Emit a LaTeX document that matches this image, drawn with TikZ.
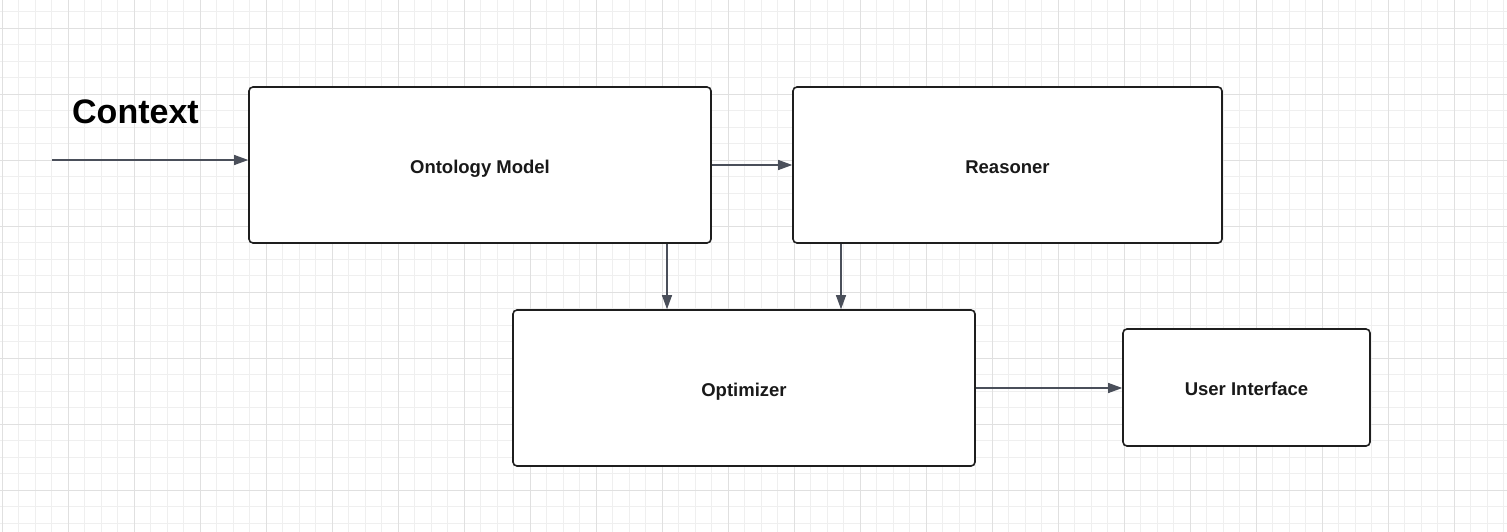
\documentclass[tikz,border=0pt]{standalone}
\usepackage{fontspec}
\setmainfont{Liberation Sans}
\usetikzlibrary{arrows.meta}
\definecolor{gridminor}{HTML}{EFEFEF}
\definecolor{gridmajor}{HTML}{E0E0E0}
\definecolor{boxline}{HTML}{1E1E1E}
\definecolor{arrowline}{HTML}{4A4F5A}
\tikzset{
  minorgrid/.style={draw=gridminor, line width=0.6pt},
  majorgrid/.style={draw=gridmajor, line width=0.8pt},
  block/.style={draw=boxline, line width=1.6pt, rounded corners=4pt, fill=white,
    font=\bfseries\fontsize{18.5}{21}\selectfont, text=black!90, inner sep=0pt,
    text depth=0pt, yshift=0pt},
  lbl/.style={font=\bfseries\fontsize{18.5}{21}\selectfont, text=black!90, inner sep=0pt},
  arr/.style={draw=arrowline, line width=1.1pt,
    -{Triangle[length=14pt,width=10pt]}},
}
\begin{document}
\begin{tikzpicture}[x=1pt,y=-1pt]
  \useasboundingbox (0,0) rectangle (1507,532);
  \fill[white] (0,0) rectangle (1507,532);
  % background grid
  \foreach \i in {0,...,91} \draw[minorgrid] ({2+16.5*\i},0) -- ({2+16.5*\i},532);
  \foreach \j in {0,...,31} \draw[minorgrid] (0,{11.5+16.5*\j}) -- (1507,{11.5+16.5*\j});
  \foreach \i in {0,...,22} \draw[majorgrid] ({2+66*\i},0) -- ({2+66*\i},532);
  \foreach \j in {0,...,7} \draw[majorgrid] (0,{28+66*\j}) -- (1507,{28+66*\j});

  % title
  \node[anchor=base west, inner sep=0pt, font=\bfseries\fontsize{34}{39}\selectfont]
    (ctx) at (72,124) {Context};

  % blocks
  \node[block, minimum width=462pt, minimum height=156pt] (onto) at (480,165) {};
  \node[block, minimum width=429pt, minimum height=156pt] (reas) at (1007.5,165) {};
  \node[block, minimum width=462pt, minimum height=156pt] (opt) at (744,388) {};
  \node[block, minimum width=247pt, minimum height=117pt] (ui) at (1246.5,387.5) {};

  % block labels
  \node[lbl, anchor=base] (ontolbl) at ([yshift=-8pt]onto.center) {Ontology Model};
  \node[lbl, anchor=base] (reaslbl) at ([yshift=-8pt]reas.center) {Reasoner};
  \node[lbl, anchor=base] (optlbl) at ([yshift=-8pt]opt.center) {Optimizer};
  \node[lbl, anchor=base] (uilbl) at ([yshift=-7.5pt]ui.center) {User Interface};

  % connectors
  \coordinate (ctxin) at (52,160);
  \draw[arr] (ctxin) -- (ctxin -| onto.west);
  \draw[arr] (onto.east) -- (reas.west);
  \draw[arr] ([xshift=187pt]onto.south) -- ([xshift=187pt]onto.south |- opt.north);
  \draw[arr] ([xshift=-166.5pt]reas.south) -- ([xshift=-166.5pt]reas.south |- opt.north);
  \draw[arr] (opt.east) -- (opt.east -| ui.west);
\end{tikzpicture}
\end{document}
